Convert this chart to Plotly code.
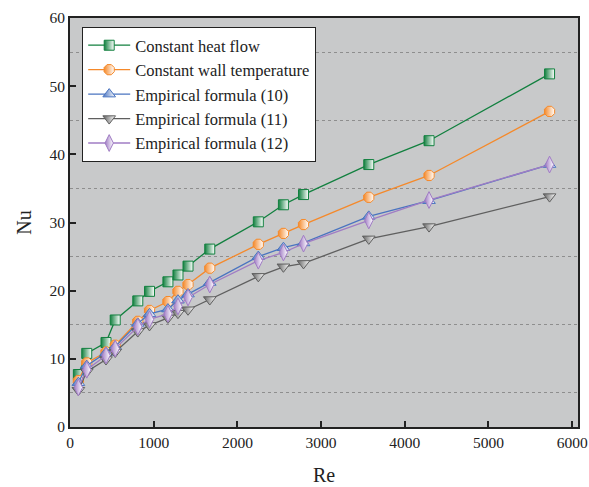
import plotly.graph_objects as go

re_vals = [100, 200, 430, 540, 810, 950, 1170, 1290, 1410, 1670, 2250, 2550, 2790, 3570, 4290, 5730]
nu_heat_flow = [7.7, 10.8, 12.4, 15.7, 18.5, 19.9, 21.3, 22.3, 23.6, 26.1, 30.1, 32.6, 34.1, 38.5, 42.0, 51.8]
nu_wall_temp = [6.8, 9.4, 11.0, 12.0, 15.5, 17.1, 18.4, 19.9, 20.9, 23.3, 26.8, 28.4, 29.7, 33.7, 36.9, 46.3]
nu_emp10 = [6.5, 9.0, 10.9, 11.8, 15.2, 16.6, 17.3, 18.6, 19.5, 21.2, 25.0, 26.3, 27.0, 30.9, 33.2, 38.5]
nu_emp11 = [5.4, 8.1, 9.9, 11.0, 14.0, 14.9, 16.0, 16.7, 17.2, 18.7, 22.1, 23.5, 24.0, 27.6, 29.4, 33.8]
nu_emp12 = [5.8, 8.4, 10.5, 11.5, 14.7, 15.8, 16.6, 17.7, 19.0, 20.9, 24.4, 25.6, 26.9, 30.3, 33.3, 38.5]

series = [
    ("Constant heat flow", nu_heat_flow, "#12803f", "square", 10),
    ("Constant wall temperature", nu_wall_temp, "#f5892a", "octagon", 11),
    ("Empirical formula (10)", nu_emp10, "#4a74c0", "triangle-up", 11),
    ("Empirical formula (11)", nu_emp11, "#5f5f5f", "triangle-down", 11),
    ("Empirical formula (12)", nu_emp12, "#a07cc4", "diamond-tall", 12),
]

fig = go.Figure()
for name, ys, color, sym, size in series:
    fig.add_trace(go.Scatter(
        x=re_vals, y=ys, name=name, mode="lines+markers",
        line=dict(color=color, width=1.3),
        marker=dict(symbol=sym, size=size, color=color,
                    line=dict(color=color, width=1),
                    gradient=dict(type="horizontal", color="white")),
    ))

font_family = "Liberation Serif, Times New Roman, serif"
fig.update_layout(
    width=589, height=487,
    margin=dict(l=70, r=11, t=18, b=60),
    paper_bgcolor="white",
    plot_bgcolor="#c8c9ca",
    font=dict(family=font_family, size=15, color="#222"),
    showlegend=True,
    legend=dict(x=0.024, y=0.978, xanchor="left", yanchor="top",
                bgcolor="white", bordercolor="#222", borderwidth=1,
                font=dict(family=font_family, size=16.5, color="#222"),
                itemwidth=42, tracegroupgap=0),
)
fig.update_xaxes(
    range=[0, 6070], tickvals=[0, 1000, 2000, 3000, 4000, 5000, 6000],
    ticks="inside", ticklen=6, tickwidth=1.5, tickcolor="#222",
    showline=True, linecolor="#222", linewidth=2, mirror=True,
    showgrid=False, zeroline=False, automargin=False,
    title=dict(text="Re", font=dict(size=20, family=font_family), standoff=18),
    tickfont=dict(size=15.5, family=font_family),
)
fig.update_yaxes(
    range=[0, 60], tickvals=[0, 10, 20, 30, 40, 50, 60],
    ticks="inside", ticklen=6, tickwidth=1.5, tickcolor="#222",
    showline=True, linecolor="#222", linewidth=2, mirror=True,
    showgrid=False, zeroline=False, automargin=False,
    minor=dict(tick0=5, dtick=10, showgrid=True, gridcolor="#8e8e8e",
               griddash="dot", gridwidth=1, ticks=""),
    title=dict(text="Nu", font=dict(size=20, family=font_family), standoff=12),
    tickfont=dict(size=15.5, family=font_family),
)
fig.write_html("out.html")
